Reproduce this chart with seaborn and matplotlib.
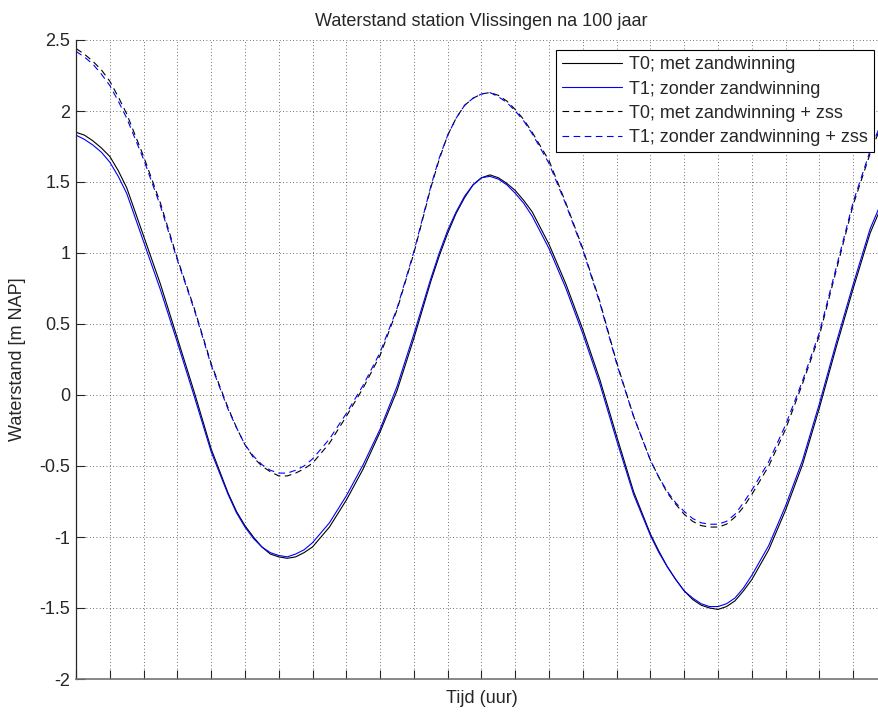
import numpy as np
import pandas as pd
import seaborn as sns
import matplotlib
matplotlib.use("Agg")
import matplotlib.pyplot as plt
from matplotlib.lines import Line2D

# Tijd in uren (extra kwartierwaarden waar de getijkromme sterk buigt)
tijd = [0, 0.25, 0.5, 0.75, 1, 1.25, 1.5,
        2, 2.5, 3, 3.5, 4, 4.5, 4.75, 5, 5.25, 5.5,
        5.75, 6, 6.25, 6.5, 6.75, 7,
        7.5, 8, 8.5, 9, 9.5, 10, 10.5, 10.75, 11,
        11.25, 11.5, 11.75, 12, 12.25, 12.5, 12.75, 13, 13.25, 13.5,
        14, 14.5, 15, 15.5, 16, 16.5, 17, 17.25, 17.5, 17.75, 18,
        18.25, 18.5, 18.75, 19, 19.25, 19.5, 19.75, 20,
        20.5, 21, 21.5, 22, 22.5, 23, 23.5, 24]

# Waterstand [m NAP], station Vlissingen, na 100 jaar
t0_met = [1.85, 1.83, 1.79, 1.74, 1.68, 1.58, 1.46,
          1.12, 0.78, 0.40, 0.02, -0.38, -0.69, -0.82, -0.92, -1.00, -1.07,
          -1.12, -1.14, -1.15, -1.14, -1.11, -1.07,
          -0.93, -0.74, -0.52, -0.26, 0.03, 0.40, 0.80, 0.98, 1.14,
          1.28, 1.39, 1.48, 1.53, 1.55, 1.53, 1.49, 1.44, 1.37, 1.29,
          1.06, 0.78, 0.46, 0.11, -0.29, -0.68, -0.98, -1.10, -1.21, -1.30, -1.38,
          -1.44, -1.48, -1.50, -1.51, -1.49, -1.45, -1.38, -1.30,
          -1.09, -0.81, -0.49, -0.09, 0.34, 0.75, 1.14, 1.42]
t1_zonder = [1.83, 1.80, 1.76, 1.71, 1.64, 1.54, 1.42,
             1.08, 0.74, 0.37, -0.01, -0.40, -0.70, -0.83, -0.93, -1.01, -1.07,
             -1.11, -1.13, -1.14, -1.12, -1.09, -1.04,
             -0.90, -0.71, -0.49, -0.24, 0.06, 0.43, 0.82, 1.00, 1.16,
             1.29, 1.40, 1.48, 1.53, 1.54, 1.52, 1.48, 1.42, 1.35, 1.26,
             1.03, 0.75, 0.43, 0.08, -0.32, -0.70, -0.99, -1.11, -1.21, -1.30, -1.38,
             -1.43, -1.47, -1.49, -1.49, -1.47, -1.43, -1.36, -1.27,
             -1.06, -0.78, -0.46, -0.06, 0.37, 0.78, 1.17, 1.45]
t0_met_zss = [2.44, 2.40, 2.35, 2.29, 2.21, 2.10, 1.98,
              1.68, 1.35, 0.96, 0.61, 0.22, -0.09, -0.23, -0.35, -0.44, -0.50,
              -0.54, -0.57, -0.57, -0.55, -0.52, -0.48,
              -0.34, -0.15, 0.05, 0.28, 0.60, 1.00, 1.46, 1.66, 1.83,
              1.95, 2.04, 2.09, 2.12, 2.13, 2.11, 2.07, 2.01, 1.94, 1.85,
              1.65, 1.35, 1.03, 0.66, 0.23, -0.15, -0.46, -0.58, -0.69, -0.77, -0.84,
              -0.89, -0.92, -0.93, -0.93, -0.91, -0.86, -0.79, -0.70,
              -0.50, -0.24, 0.08, 0.42, 0.88, 1.34, 1.70, 2.00]
t1_zonder_zss = [2.42, 2.38, 2.33, 2.26, 2.18, 2.07, 1.95,
                 1.66, 1.33, 0.95, 0.60, 0.21, -0.10, -0.23, -0.35, -0.43, -0.49,
                 -0.53, -0.55, -0.55, -0.53, -0.50, -0.45,
                 -0.31, -0.13, 0.07, 0.30, 0.61, 1.01, 1.47, 1.67, 1.83,
                 1.95, 2.04, 2.09, 2.12, 2.13, 2.10, 2.06, 2.00, 1.93, 1.84,
                 1.63, 1.34, 1.02, 0.65, 0.22, -0.15, -0.46, -0.58, -0.68, -0.76, -0.82,
                 -0.87, -0.90, -0.91, -0.91, -0.89, -0.84, -0.76, -0.67,
                 -0.47, -0.21, 0.10, 0.44, 0.90, 1.36, 1.72, 2.02]

labels = ["T0; met zandwinning", "T1; zonder zandwinning",
          "T0; met zandwinning + zss", "T1; zonder zandwinning + zss"]
y_ticks = [-2, -1.5, -1, -0.5, 0, 0.5, 1, 1.5, 2, 2.5]
y_ticklabels = ["-2", "-1.5", "-1", "-0.5", "0", "0.5", "1", "1.5", "2", "2.5"]

series = [t0_met, t1_zonder, t0_met_zss, t1_zonder_zss]
df = pd.concat(
    [pd.DataFrame({"tijd": tijd, "waterstand": vals, "reeks": lab})
     for lab, vals in zip(labels, series)],
    ignore_index=True,
)

sns.set_style("ticks")
plt.rcParams["font.family"] = ["Liberation Sans", "DejaVu Sans"]
plt.rcParams["axes.unicode_minus"] = False

FS = 13
fig = plt.figure(figsize=(8.79, 7.13), dpi=100)
ax = fig.add_axes([76 / 879, 1 - 679 / 713, 811 / 879, 639 / 713])

kleuren = {labels[0]: "#000000", labels[1]: "#0000ff",
           labels[2]: "#000000", labels[3]: "#0000ff"}
streep = (6, 4)
stijlen = {labels[0]: "", labels[1]: "", labels[2]: streep, labels[3]: streep}

sns.lineplot(data=df, x="tijd", y="waterstand", hue="reeks", style="reeks",
             palette=kleuren, dashes=stijlen, hue_order=labels, style_order=labels,
             linewidth=0.8, ax=ax, legend=False, sort=False, estimator=None)

ax.set_xlim(0, 24)
ax.set_ylim(-2, 2.5)
ax.set_xticks(np.arange(0, 25, 1))
ax.set_xticklabels([])
ax.set_yticks(y_ticks)
ax.set_yticklabels(y_ticklabels)
ax.tick_params(direction="in", length=6.5, width=0.8, labelsize=FS, color="0.15", pad=4)
ax.grid(True, linestyle=(0, (1, 3)), color="0.25", linewidth=0.6)

for side in ("top", "right"):
    ax.spines[side].set_visible(False)
ax.spines["left"].set_color("0.15")
ax.spines["bottom"].set_color("0.45")
ax.spines["left"].set_linewidth(0.9)
ax.spines["bottom"].set_linewidth(1.2)

ax.set_title("Waterstand station Vlissingen na 100 jaar", fontsize=FS, pad=10)
ax.set_xlabel("Tijd (uur)", fontsize=FS, labelpad=4)
ax.set_ylabel("Waterstand [m NAP]", fontsize=FS)
ax.yaxis.set_label_coords(-0.062, 0.5)

handles = [Line2D([], [], color="#000000", lw=0.8),
           Line2D([], [], color="#0000ff", lw=0.8),
           Line2D([], [], color="#000000", lw=0.8, dashes=streep),
           Line2D([], [], color="#0000ff", lw=0.8, dashes=streep)]
leg = ax.legend(handles, labels, loc="upper right", bbox_to_anchor=(874 / 879, 1 - 50 / 713),
                bbox_transform=fig.transFigure, fontsize=FS, frameon=True, fancybox=False,
                framealpha=1, edgecolor="black", handlelength=3.3, borderpad=0.35,
                labelspacing=0.4, handletextpad=0.4, borderaxespad=0)
leg.get_frame().set_linewidth(0.8)

fig.savefig("out.png", dpi=100)
